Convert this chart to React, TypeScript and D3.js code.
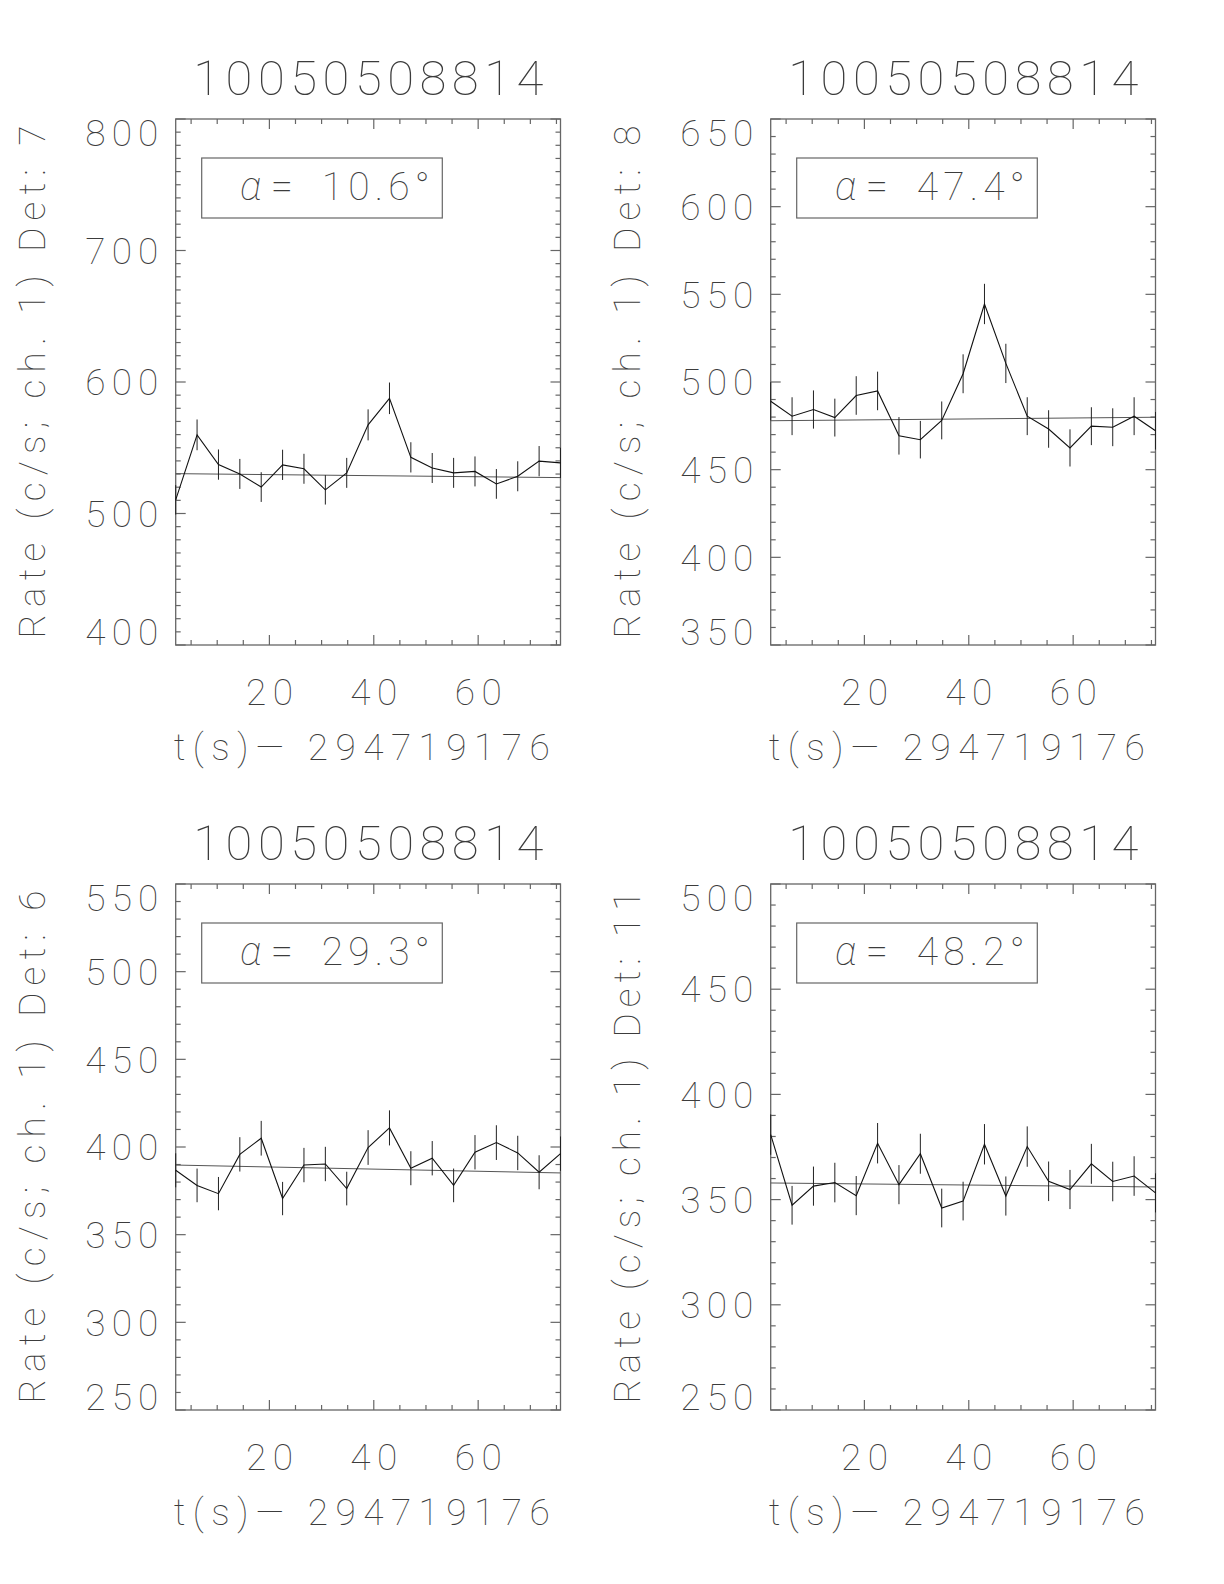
import React from 'react';
import * as d3 from 'd3';

// ---------- data ----------
const TITLE = '10050508814';
const X_TITLE = 't(s)\u2014 294719176';
const TIMES = [2.048, 6.144, 10.24, 14.336, 18.432, 22.528, 26.624, 30.72, 34.816, 38.912, 43.008, 47.104, 51.2, 55.296, 59.392, 63.488, 67.584, 71.68, 75.776];
const X_TICKS = [20, 40, 60];

const DETS = ['7', '8', '6', '11'];
const ALPHAS = ['10.6', '47.4', '29.3', '48.2'];

const RATE_DET7 = [510.4, 559.8, 537.2, 530.1, 520.1, 537.0, 534.0, 518.0, 530.9, 567.4, 587.6, 542.7, 534.6, 530.9, 532.0, 522.5, 528.3, 539.8, 538.5];
const ERR_DET7 = [11.2, 11.7, 11.5, 11.4, 11.3, 11.5, 11.4, 11.2, 11.4, 11.8, 12.0, 11.5, 11.4, 11.4, 11.4, 11.3, 11.4, 11.5, 11.5];
const FIT_DET7 = [530.3, 527.3];
const YTICKS_DET7 = [400, 500, 600, 700, 800];

const RATE_DET8 = [489.0, 480.5, 484.3, 479.7, 492.3, 494.9, 469.3, 467.1, 478.1, 504.7, 544.5, 510.6, 480.5, 473.2, 462.4, 474.8, 474.2, 480.5, 472.2];
const ERR_DET8 = [10.9, 10.8, 10.9, 10.8, 11.0, 11.0, 10.7, 10.7, 10.8, 11.1, 11.5, 11.2, 10.8, 10.7, 10.6, 10.8, 10.8, 10.8, 10.7];
const FIT_DET8 = [477.9, 479.9];
const YTICKS_DET8 = [350, 400, 450, 500, 550, 600, 650];

const RATE_DET6 = [386.7, 378.1, 373.4, 395.8, 405.0, 370.6, 389.7, 390.3, 376.3, 399.7, 410.9, 387.9, 393.6, 378.1, 397.0, 402.5, 396.6, 385.6, 396.2];
const ERR_DET6 = [9.7, 9.6, 9.5, 9.8, 9.9, 9.5, 9.8, 9.8, 9.6, 9.9, 10.0, 9.7, 9.8, 9.6, 9.8, 9.9, 9.8, 9.7, 9.8];
const FIT_DET6 = [389.7, 385.2];
const YTICKS_DET6 = [250, 300, 350, 400, 450, 500, 550];

const RATE_DET11 = [380.9, 347.3, 356.4, 358.1, 351.9, 376.8, 357.1, 371.8, 346.0, 349.3, 376.3, 351.7, 375.2, 358.7, 354.8, 367.0, 358.6, 361.2, 353.2];
const ERR_DET11 = [9.6, 9.2, 9.3, 9.4, 9.3, 9.6, 9.3, 9.5, 9.2, 9.2, 9.6, 9.3, 9.6, 9.4, 9.3, 9.5, 9.4, 9.4, 9.3];
const FIT_DET11 = [357.9, 356.0];
const YTICKS_DET11 = [250, 300, 350, 400, 450, 500];

const RATES = [RATE_DET7, RATE_DET8, RATE_DET6, RATE_DET11];
const ERRS = [ERR_DET7, ERR_DET8, ERR_DET6, ERR_DET11];
const FITS = [FIT_DET7, FIT_DET8, FIT_DET6, FIT_DET11];
const YTICKS = [YTICKS_DET7, YTICKS_DET8, YTICKS_DET6, YTICKS_DET11];

// ---------- layout ----------
const W = 384.8;
const H = 526;
const LEFTS = [175.7, 770.7, 175.7, 770.7];
const TOPS = [119, 119, 884, 884];
const FONT = "Roboto, 'DejaVu Sans', sans-serif";
const FW = 100;
const TEXT = '#3c3c3c';
const AXIS = '#666';

function Panel({ idx }: { idx: number }) {
  const left = LEFTS[idx];
  const top = TOPS[idx];
  const rate = RATES[idx];
  const err = ERRS[idx];
  const fit = FITS[idx];
  const yt = YTICKS[idx];
  const yMin = yt[0];
  const yMax = yt[yt.length - 1];
  const majorStep = yt[1] - yt[0];

  const x = d3.scaleLinear().domain([TIMES[0], TIMES[TIMES.length - 1]]).range([left, left + W]);
  const y = d3.scaleLinear().domain([yMin, yMax]).range([top + H, top]);

  const line = d3.line<number>().x((_, i) => x(TIMES[i])).y((d) => y(d));
  const fitLine = d3.line<number>().x((_, i) => x(i === 0 ? TIMES[0] : TIMES[TIMES.length - 1])).y((d) => y(d));

  const xMinor = d3.range(5, 76, 5).filter((v) => v > TIMES[0] && v < TIMES[TIMES.length - 1]);
  const yMinor = d3.range(yMin, yMax + 0.01, 10);

  const ticks: JSX.Element[] = [];
  xMinor.forEach((v, i) => {
    const len = X_TICKS.includes(v) ? 10 : 5;
    const px = x(v);
    ticks.push(<line key={'xb' + i} x1={px} x2={px} y1={top + H} y2={top + H - len} />);
    ticks.push(<line key={'xt' + i} x1={px} x2={px} y1={top} y2={top + len} />);
  });
  yMinor.forEach((v, i) => {
    const isMajor = Math.abs((v - yMin) % majorStep) < 0.01;
    const len = isMajor ? 10 : 5;
    const py = y(v);
    ticks.push(<line key={'yl' + i} x1={left} x2={left + len} y1={py} y2={py} />);
    ticks.push(<line key={'yr' + i} x1={left + W} x2={left + W - len} y1={py} y2={py} />);
  });

  const labelFs = 37;
  const capH = 26.5;

  return (
    <g>
      {/* title */}
      <text x={left + 17.6} y={top - 24} fontSize={49} fontFamily={FONT} fontWeight={FW} fill={TEXT}
        textLength={350} lengthAdjust="spacing">{TITLE}</text>

      {/* y-axis title */}
      <text transform={`translate(${left - 130.5},${top + H / 2}) rotate(-90)`} textAnchor="middle" fontSize={37}
        fontFamily={FONT} fontWeight={FW} fill={TEXT} textLength={513} lengthAdjust="spacing">
        {`Rate (c/s; ch. 1) Det: ${DETS[idx]}`}
      </text>

      {/* y tick labels */}
      {yt.map((v, i) => {
        let cy = y(v);
        if (i === 0) cy = top + H - capH / 2;
        else if (i === yt.length - 1) cy = top + capH / 2;
        const wdt = 73;
        return (
          <text key={'yl' + v} x={left - 17.4 - wdt} y={cy + capH / 2} fontSize={labelFs} fontFamily={FONT}
            fontWeight={FW} fill={TEXT} textLength={wdt} lengthAdjust="spacing">{String(v)}</text>
        );
      })}

      {/* x tick labels */}
      {X_TICKS.map((v) => (
        <text key={'xl' + v} x={x(v) - 23.5} y={top + H + 60} fontSize={labelFs} fontFamily={FONT}
          fontWeight={FW} fill={TEXT} textLength={47} lengthAdjust="spacing">{String(v)}</text>
      ))}

      {/* x title */}
      <text x={left - 2} y={top + H + 115} fontSize={labelFs} fontFamily={FONT} fontWeight={FW} fill={TEXT}
        textLength={376} lengthAdjust="spacing">{X_TITLE}</text>

      {/* axes box */}
      <rect x={left} y={top} width={W} height={H} fill="none" stroke={AXIS} strokeWidth={1.3} />
      <g stroke={AXIS} strokeWidth={1.2}>{ticks}</g>

      {/* alpha box */}
      <rect x={left + 26} y={top + 39} width={240.6} height={60} fill="none" stroke={AXIS} strokeWidth={1.2} />
      <text x={left + 64.3} y={top + 81} fontSize={40} fontFamily={FONT} fontWeight={FW} fontStyle="italic" fill={TEXT}>α</text>
      <text x={left + 95} y={top + 81} fontSize={40} fontFamily={FONT} fontWeight={FW} fill={TEXT}>=</text>
      <text x={left + 146} y={top + 81} fontSize={39} fontFamily={FONT} fontWeight={FW} fill={TEXT}
        textLength={108} lengthAdjust="spacing">{`${ALPHAS[idx]}°`}</text>

      {/* fit line */}
      <path d={fitLine(fit) || ''} fill="none" stroke="#555" strokeWidth={1} />

      {/* error bars */}
      <g stroke="#222" strokeWidth={1}>
        {rate.map((v, i) => (
          <line key={'e' + i} x1={x(TIMES[i])} x2={x(TIMES[i])} y1={y(v - err[i])} y2={y(v + err[i])} />
        ))}
      </g>

      {/* data line */}
      <path d={line(rate) || ''} fill="none" stroke="#111" strokeWidth={1.1} />
    </g>
  );
}

export default function App() {
  return (
    <svg width={1224} height={1584} style={{ position: 'absolute', left: 0, top: 0, background: '#fff' }}>
      <rect x={0} y={0} width={1224} height={1584} fill="#fff" />
      {[0, 1, 2, 3].map((i) => (
        <Panel key={i} idx={i} />
      ))}
    </svg>
  );
}
